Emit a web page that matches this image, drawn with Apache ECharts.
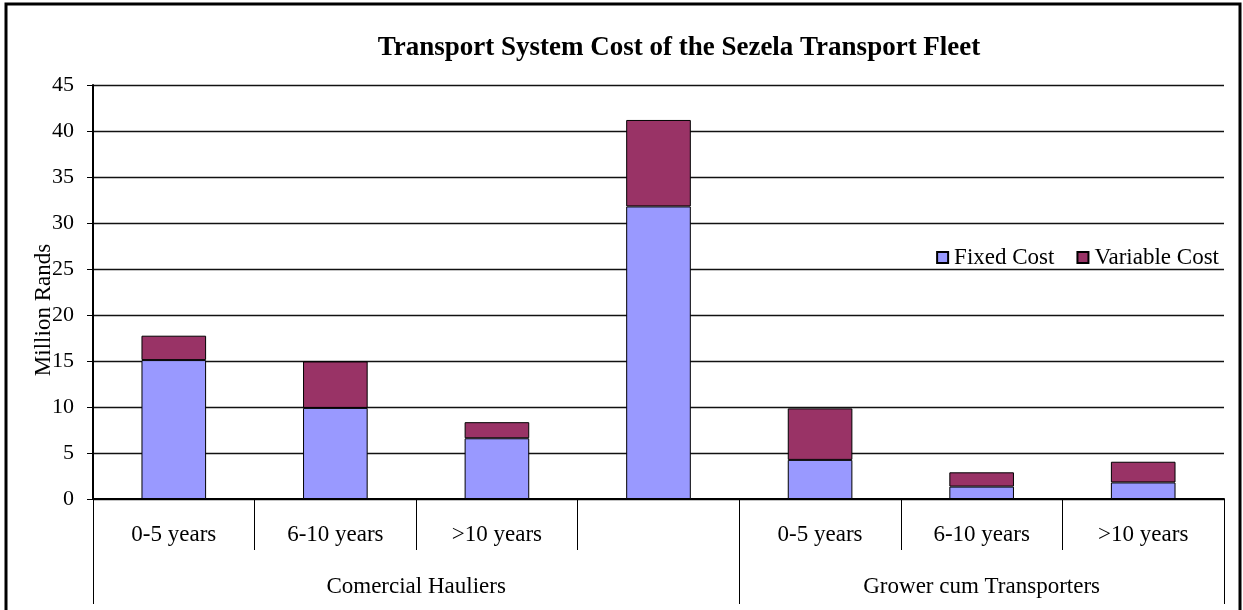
<!DOCTYPE html>
<html>
<head>
<meta charset="utf-8">
<title>Transport System Cost of the Sezela Transport Fleet</title>
<script src="https://cdn.jsdelivr.net/npm/echarts@6/dist/echarts.min.js"></script>
<style>
  html, body { margin: 0; padding: 0; background: #fff; }
  #chart { width: 1243px; height: 610px; }
</style>
</head>
<body>
<div id="chart"></div>
<script>
// data (million Rands)
var categories = ['0-5 years', '6-10 years', '>10 years', '', '0-5 years', '6-10 years', '>10 years'];
var fixedCost = [15.1, 9.9, 6.6, 31.8, 4.25, 1.35, 1.8];
var variableCost = [2.65, 5.05, 1.75, 9.4, 5.6, 1.55, 2.25];
var groupNames = ['Comercial Hauliers', 'Grower cum Transporters'];
var groupSpans = [4, 3];

var font = 'Liberation Serif, Times New Roman, serif';

// second level axis: half-slot points, labels at group centres, ticks at group edges
var nPoints = categories.length * 2 + 1;
var groupData = [];
for (var i = 0; i < nPoints; i++) groupData.push('');
var edgeIdx = [];
var start = 0;
groupNames.forEach(function (name, k) {
    edgeIdx.push(start * 2);
    groupData[start * 2 + groupSpans[k]] = name;
    start += groupSpans[k];
});
edgeIdx.push(start * 2);

var chart = echarts.init(document.getElementById('chart'));
var option = {
    animation: false,
    backgroundColor: '#fff',
    textStyle: { fontFamily: font, color: '#000' },
    title: {
        text: 'Transport System Cost of the Sezela Transport Fleet',
        left: 674,
        top: 30,
        textAlign: 'center',
        textStyle: { fontFamily: font, fontSize: 27, fontWeight: 'bold', color: '#000' }
    },
    legend: {
        right: 19,
        top: 241,
        icon: 'rect',
        itemWidth: 11,
        itemHeight: 11,
        itemGap: 22,
        textStyle: { fontFamily: font, fontSize: 23, color: '#000', padding: [0, 0, 0, 1] },
        data: ['Fixed Cost', 'Variable Cost']
    },
    grid: { left: 93, right: 19, top: 85, bottom: 111 },
    xAxis: [{
        type: 'category',
        data: categories,
        axisLine: { lineStyle: { color: '#000', width: 2 } },
        axisTick: { show: true, interval: 0, length: 51, lineStyle: { color: '#000', width: 1 } },
        axisLabel: { interval: 0, margin: 24, fontFamily: font, fontSize: 23, color: '#000' }
    }, {
        type: 'category',
        position: 'bottom',
        boundaryGap: false,
        data: groupData,
        axisLine: { show: false },
        axisTick: {
            show: true,
            length: 105,
            interval: function (idx) { return edgeIdx.indexOf(idx) >= 0; },
            lineStyle: { color: '#000', width: 1 }
        },
        axisLabel: { interval: 0, margin: 76, fontFamily: font, fontSize: 23, color: '#000' }
    }],
    yAxis: {
        type: 'value',
        min: 0,
        max: 45,
        interval: 5,
        name: 'Million Rands',
        nameLocation: 'middle',
        nameGap: 38,
        nameMoveOverlap: false,
        nameRotate: 90,
        nameTextStyle: { fontFamily: font, fontSize: 23, color: '#000', padding: [0, 36, 0, 0] },
        axisLine: { show: true, lineStyle: { color: '#000', width: 2 } },
        axisTick: { show: true, length: 6, lineStyle: { color: '#000' } },
        axisLabel: { margin: 19, fontFamily: font, fontSize: 22, color: '#000' },
        splitLine: { lineStyle: { color: '#111', width: 1.3 } }
    },
    series: [{
        name: 'Fixed Cost',
        type: 'bar',
        stack: 'cost',
        barWidth: '40%',
        itemStyle: { color: '#9999FF', borderColor: '#000', borderWidth: 1 },
        data: fixedCost
    }, {
        name: 'Variable Cost',
        type: 'bar',
        stack: 'cost',
        barWidth: '40%',
        itemStyle: { color: '#993366', borderColor: '#000', borderWidth: 1 },
        data: variableCost
    }],
    graphic: [{
        type: 'rect',
        silent: true,
        shape: { x: 6, y: 4, width: 1234, height: 640 },
        style: { fill: 'none', stroke: '#000', lineWidth: 3 }
    }]
};
chart.setOption(option);
</script>
</body>
</html>
